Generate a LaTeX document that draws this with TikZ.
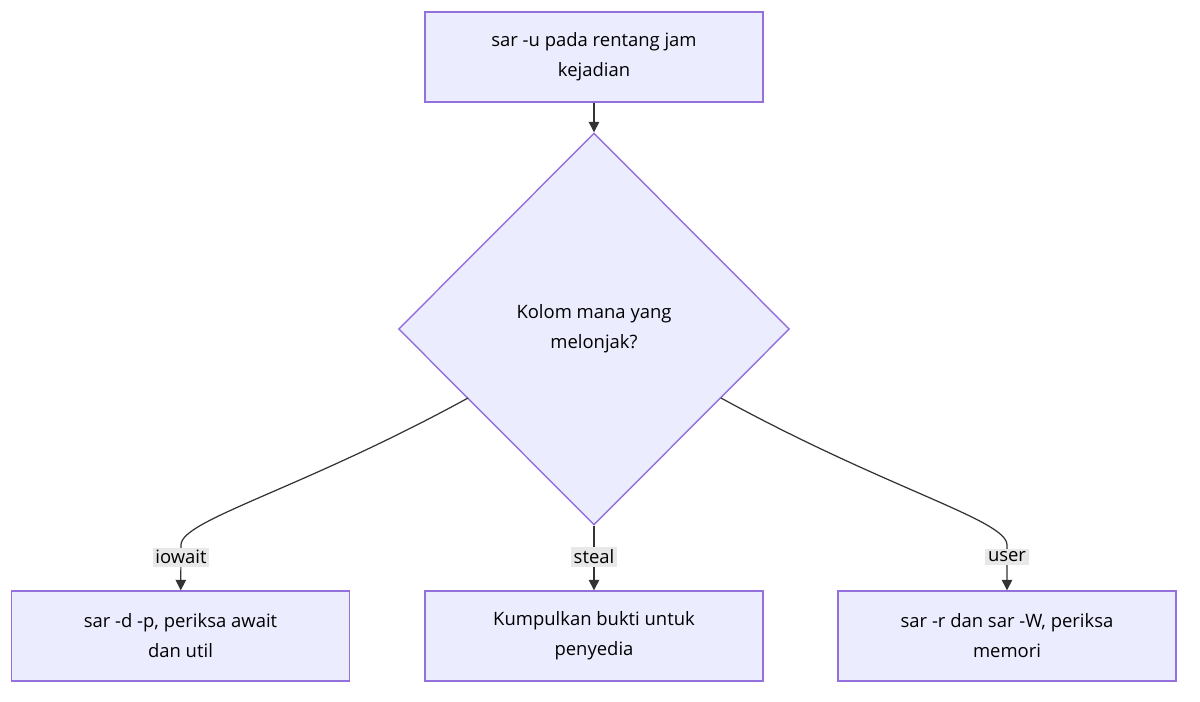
\documentclass[tikz,border=0pt]{standalone}
\usepackage{fontspec}
\setmainfont{Open Sans}
\usetikzlibrary{shapes.geometric,arrows.meta}
\definecolor{boxfill}{HTML}{ECECFF}
\definecolor{boxline}{HTML}{9370DB}
\definecolor{lblfill}{HTML}{E8E8E8}
\tikzset{
  stepbox/.style={draw=boxline, fill=boxfill, line width=0.8pt, minimum width=6.76cm, minimum height=1.8cm, align=center, font=\fontsize{10.5}{17}\selectfont},
  choice/.style={draw=boxline, fill=boxfill, line width=0.8pt, diamond, minimum width=7.82cm, minimum height=7.84cm, inner sep=0pt, align=center, font=\fontsize{10.5}{17}\selectfont},
  tag/.style={fill=lblfill, inner sep=1.5pt, font=\fontsize{10.5}{13}\selectfont},
  link/.style={draw=black!80, line width=0.7pt, -{Triangle[length=6pt,width=6pt]}}
}
\begin{document}
\begin{tikzpicture}[x=0.02cm, y=-0.02cm]
        \useasboundingbox (0,0) rectangle (1200,701);
        \node[stepbox] (top) at (594,57) {sar -u pada rentang jam\\kejadian};
        \node[choice] (col) at (594,329) {Kolom mana yang\\melonjak?};

        \node[stepbox] (io) at (180.5,636) {sar -d -p, periksa await\\dan util};
        \node[stepbox] (st) at (594,636) {Kumpulkan bukti untuk\\penyedia};
        \node[stepbox] (us) at (1007,636) {sar -r dan sar -W, periksa\\memori};

        \draw[link] (top) -- (col);

        \coordinate (ioa) at (468,398);
        \coordinate (usa) at (721,398);
        \draw[link] (ioa) .. controls (300,490) and (181,520) .. (181,545) -- (io);
        \draw[link] (col.south) -- (st);
        \draw[link] (usa) .. controls (889,490) and (1007,520) .. (1007,545) -- (us);

        \node[tag] (l1) at (181,557) {iowait};
        \node[tag] (l2) at (594,557) {steal};
        \node[tag] (l3) at (1007,557) {user};
\end{tikzpicture}
\end{document}
